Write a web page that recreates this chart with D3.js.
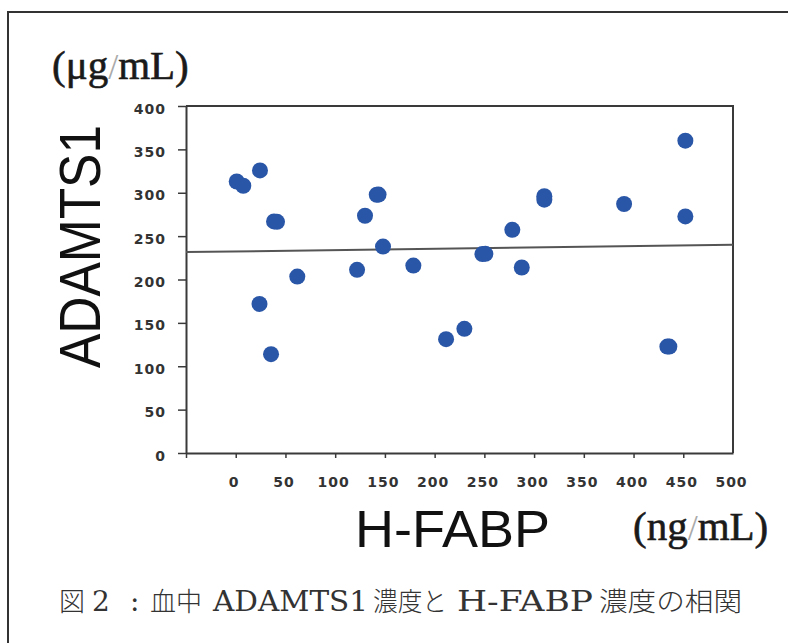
<!DOCTYPE html>
<html><head><meta charset="utf-8">
<script src="https://cdn.jsdelivr.net/npm/d3@7"></script>
<style>body{margin:0;background:#fff}</style>
</head><body><svg id="c" width="788" height="643"></svg>
<script>
// H-FABP (ng/mL) vs ADAMTS1 (µg/mL)
const hfabp   = [1.0, 7.6, 24.4, 38.5, 41.5, 23.9, 35.5, 61.9, 122, 130, 141.8, 143.6, 148.1, 178.6, 211.5, 229.9, 248.0, 251.0, 278.1, 287.6, 310.3, 310.3, 390.5, 452.1, 452.1, 434.0, 436.0];
const adamts1 = [313.0, 308.1, 325.7, 266.9, 266.5, 171.9, 113.9, 203.4, 211.2, 273.5, 297.7, 297.9, 238.0, 216.1, 131.2, 143.1, 229.3, 229.6, 257.3, 213.8, 296.0, 292.0, 287.0, 360.0, 272.7, 122.7, 122.7];
const trendX = [-50, 500];
const trendY = [231.6, 240.0];
const xTickLabels = [0, 50, 100, 150, 200, 250, 300, 350, 400, 450, 500];
const xTickMarks = [-50, 0, 50, 100, 150, 200, 250, 300, 350, 400, 450];
const yTickLabels = [0, 50, 100, 150, 200, 250, 300, 350, 400];

const svg = d3.select("#c");
const x = d3.scaleLinear().domain([-50, 500]).range([186, 733]);
const y = d3.scaleLinear().domain([0, 400]).range([453, 106]);
const axisCol = "#3a3a3a";

// outer frame (clipped at right/bottom)
svg.append("rect").attr("x", 8).attr("y", 12).attr("width", 900).attr("height", 800)
  .attr("fill", "none").attr("stroke", "#333").attr("stroke-width", 2);

// plot box top & right
svg.append("path")
  .attr("d", `M${x(-50)},${y(400)}H${x(500)}V${y(0)}`)
  .attr("fill", "none").attr("stroke", axisCol).attr("stroke-width", 2);

// y axis
const ya = svg.append("g").attr("transform", `translate(${x(-50)},0)`)
  .call(d3.axisLeft(y).tickValues(yTickLabels).tickSize(8).tickSizeOuter(0).tickPadding(12));
ya.select(".domain").attr("stroke", axisCol).attr("stroke-width", 2);
ya.selectAll(".tick line").attr("stroke", axisCol).attr("stroke-width", 1.5);
ya.selectAll(".tick text").attr("font-family", "DejaVu Sans").attr("font-weight", "bold")
  .attr("font-size", 14).attr("fill", "#333").attr("letter-spacing", 1).attr("dy", "0.5em");

// x axis ticks
const xa = svg.append("g").attr("transform", `translate(0,${y(0)})`)
  .call(d3.axisBottom(x).tickValues(xTickMarks).tickSize(5).tickSizeOuter(0).tickFormat(""));
xa.select(".domain").attr("stroke", axisCol).attr("stroke-width", 2);
xa.selectAll(".tick line").attr("stroke", axisCol).attr("stroke-width", 1.5);
// x labels
const xl = svg.append("g").attr("transform", `translate(-2,${y(0)})`)
  .call(d3.axisBottom(x).tickValues(xTickLabels).tickSize(0).tickPadding(24));
xl.select(".domain").remove();
xl.selectAll(".tick text").attr("font-family", "DejaVu Sans").attr("font-weight", "bold")
  .attr("font-size", 14).attr("fill", "#333").attr("letter-spacing", 1);

// trend line
svg.append("line")
  .attr("x1", x(trendX[0])).attr("y1", y(trendY[0]))
  .attr("x2", x(trendX[1])).attr("y2", y(trendY[1]))
  .attr("stroke", "#555").attr("stroke-width", 2);

// points
svg.append("g").selectAll("circle").data(hfabp.map((v, i) => [v, adamts1[i]])).join("circle")
  .attr("cx", d => x(d[0])).attr("cy", d => y(d[1])).attr("r", 8)
  .attr("fill", "#2a56a7");

// unit labels
function unit(xp, yp, a, b) {
  const t = svg.append("text").attr("x", xp).attr("y", yp)
    .attr("font-family", "Liberation Serif").attr("font-size", 41).attr("fill", "#1a1a1a")
    .attr("stroke", "#1a1a1a").attr("stroke-width", 0.6);
  t.append("tspan").text(a);
  t.append("tspan").attr("fill", "#aaa").attr("stroke", "none").attr("font-size", 36).text("/");
  t.append("tspan").text(b);
}
unit(52, 79, "(μg", "mL)");
unit(633, 540, "(ng", "mL)");

// axis titles
svg.append("text").attr("transform", "translate(100,368) rotate(-90)")
  .attr("font-family", "Liberation Sans").attr("font-size", 58).attr("fill", "#111")
  .attr("textLength", 243).attr("lengthAdjust", "spacingAndGlyphs").text("ADAMTS1");
svg.append("text").attr("x", 355).attr("y", 547)
  .attr("font-family", "Liberation Sans").attr("font-size", 51).attr("fill", "#111")
  .attr("textLength", 195).attr("lengthAdjust", "spacingAndGlyphs").text("H-FABP");

// caption
const cap = svg.append("g").attr("fill", "#333");
const segs = [
  {t: "図", x: 59, cjk: true},
  {t: "2", x: 92},
  {t: ":", x: 130},
  {t: "血中", x: 150, cjk: true},
  {t: "ADAMTS1", x: 213, len: 155},
  {t: "濃度と", x: 373, cjk: true, len: 74},
  {t: "H-FABP", x: 457, len: 136},
  {t: "濃度の相関", x: 599, cjk: true, len: 143}
];
segs.forEach(s => {
  const t = cap.append("text").attr("x", s.x).attr("y", 611)
    .attr("font-family", s.cjk ? "Noto Sans CJK JP" : "DejaVu Serif")
    .attr("font-weight", s.cjk ? 300 : 400)
    .attr("font-size", s.cjk ? 26 : 28).text(s.t);
  if (s.len) t.attr("textLength", s.len).attr("lengthAdjust", "spacingAndGlyphs");
});
</script></body></html>
